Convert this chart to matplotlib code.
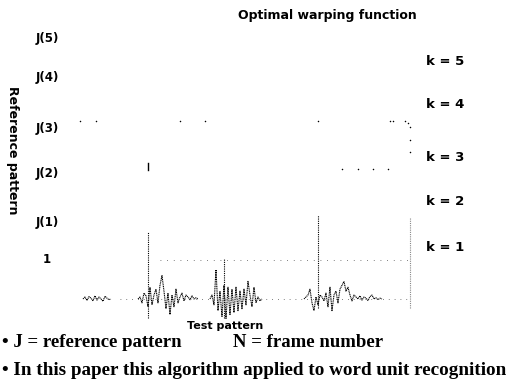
"""Optimal warping function (DTW) slide, redrawn with matplotlib."""
import matplotlib

matplotlib.use("Agg")
import matplotlib.pyplot as plt
import matplotlib.transforms as mtransforms
import numpy as np

# ── data ────────────────────────────────────────────────────────────────────
level_labels = ["1", "J(1)", "J(2)", "J(3)", "J(4)", "J(5)"]
level_values = [1.0, 1.97, 3.23, 4.38, 5.67, 6.69]

k_labels = ["k = 1", "k = 2", "k = 3", "k = 4", "k = 5"]
k_values = [1.33, 2.51, 3.62, 5.0, 6.08]

# speech waveform of the test pattern, sampled every 2 frames per segment
seg_starts = [13, 68, 140, 234]
seg_a = [0.0, 0.05, -0.04, 0.06, 0.02, -0.05, 0.08, -0.03, 0.05, 0.0,
         -0.06, 0.07, 0.02, -0.02, 0.0]
seg_b = [0.0, 0.05, -0.1, 0.15, 0.08, -0.2, 0.3, -0.15, 0.1, 0.25,
         -0.1, 0.35, 0.6, 0.2, -0.25, 0.15, -0.4, 0.1, -0.2, 0.25,
         -0.1, 0.05, 0.15, -0.05, 0.1, 0.05, -0.02, 0.08, 0.0, 0.03, 0.0]
seg_c = [0.0, 0.1, -0.15, 0.75, -0.3, 0.2, -0.45, 0.35, -0.5, 0.3,
         -0.4, 0.25, -0.35, 0.3, -0.3, 0.2, -0.25, 0.25, -0.15, 0.45,
         0.1, -0.2, 0.3, -0.1, 0.05, -0.05, 0.0]
seg_d = [0.0, 0.05, 0.1, 0.25, -0.1, -0.3, 0.05, -0.15, 0.1, 0.05,
         -0.05, 0.15, -0.2, 0.3, -0.3, 0.1, 0.2, -0.1, 0.25, 0.35,
         0.45, 0.2, 0.3, 0.1, -0.05, 0.1, 0.05, 0.0, 0.08, -0.03,
         0.05, 0.02, -0.04, 0.06, 0.1, 0.0, 0.03, -0.02, 0.02, 0.0]
segments = [seg_a, seg_b, seg_c, seg_d]

# word boundaries (frame, bottom level, top level)
bound_frames = [78, 154, 248, 340]
bound_bottom = [-0.49, -0.49, -0.23, -0.23]
bound_top = [1.72, 1.05, 2.15, 2.07]

# warping path fragments (frame, level)
path1_x = [90, 340]
path1_y = [1.0, 1.0]
path2_x = [10, 26, 110, 135, 248, 320, 323, 335, 338, 340, 340, 340]
path2_y = [4.56, 4.56, 4.56, 4.56, 4.56, 4.56, 4.56, 4.56, 4.52, 4.41, 4.08, 3.77]
path3_x = [272, 288, 303, 318]
path3_y = [3.33, 3.33, 3.33, 3.33]
base_x = [50, 340]
base_y = [0.0, 0.0]

# ── figure ──────────────────────────────────────────────────────────────────
fig = plt.figure(figsize=(5.09, 3.84), dpi=100)
ax = fig.add_axes([0.1375, 0.1667, 0.6876, 0.7552])
ax.set_xlim(0, 350)
ax.set_ylim(-0.54, 6.9)
ax.axis("off")

for start, amps in zip(seg_starts, segments):
    xs = np.arange(start, start + 2 * len(amps), 2)[: len(amps)]
    ax.plot(xs, amps, color="black", lw=0.8, ls=(0, (1, 0.6)))

for i, (bx, b0, b1) in enumerate(zip(bound_frames, bound_bottom, bound_top)):
    col = "#888888" if i == 3 else "black"
    ax.plot([bx, bx], [b0, b1], color=col, lw=0.8, ls=(0, (1, 1)))

ax.plot(path1_x, path1_y, color="#555555", lw=0.6, ls=(0, (1, 7)))
ax.plot(base_x, base_y, color="#555555", lw=0.6, ls=(0, (1, 6)))
ax.scatter(path2_x, path2_y, s=1.2, color="black", lw=0)
ax.scatter(path3_x, path3_y, s=1.2, color="black", lw=0)
ax.plot([bound_frames[0], bound_frames[0]], [3.32, 3.5], color="black", lw=1.0)

# level labels on the reference axis
trans = mtransforms.blended_transform_factory(ax.transAxes, ax.transData)
for lab, lv in zip(level_labels, level_values):
    ax.text(-0.065, lv, lab, transform=trans, ha="center", va="center",
            fontsize=8.5, fontweight="bold")
for lab, kv in zip(k_labels, k_values):
    ax.text(1.018, kv, lab, transform=trans, ha="left", va="center",
            fontsize=9.5, fontweight="bold")

fig.text(0.643, 0.960, "Optimal warping function", ha="center", va="center",
         fontsize=9, fontweight="bold")
fig.text(0.024, 0.61, "Reference pattern", ha="center", va="center",
         rotation=-90, fontsize=9, fontweight="bold")
fig.text(0.442, 0.151, "Test pattern", ha="center", va="center",
         fontsize=8, fontweight="bold")

serif = ["Liberation Serif", "DejaVu Serif"]
fig.text(0.004, 0.107, "\u2022 J = reference pattern", ha="left", va="center",
         fontsize=13.5, family=serif, fontweight="bold")
fig.text(0.458, 0.107, "N = frame number", ha="left", va="center",
         fontsize=13.5, family=serif, fontweight="bold")
fig.text(0.004, 0.036, "\u2022 In this paper this algorithm applied to word unit recognition",
         ha="left", va="center", fontsize=13.8, family=serif, fontweight="bold")

fig.savefig("out.png", dpi=100)
plt.close(fig)
